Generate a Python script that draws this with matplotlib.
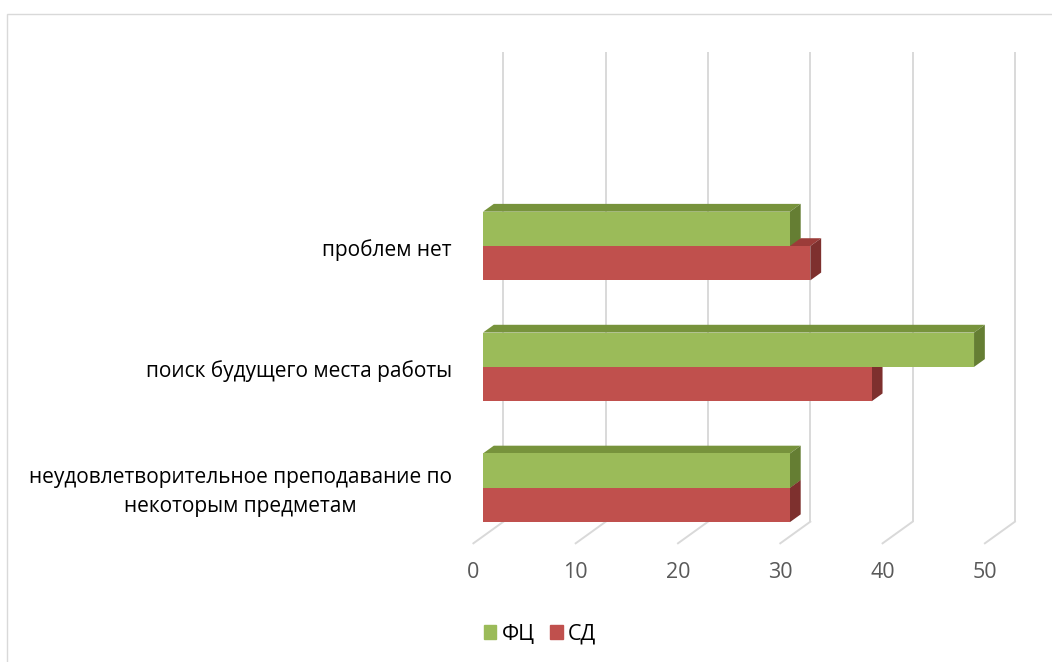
import matplotlib.pyplot as plt
import matplotlib.patches as mpatches
from matplotlib.patches import Polygon

# data (bottom to top)
categories = ['неудовлетворительное преподавание по\nнекоторым предметам',
              'поиск будущего места работы',
              'проблем нет']
fc_values = [30, 48, 30]   # ФЦ
sd_values = [30, 38, 32]   # СД
series_names = ['ФЦ', 'СД']
ticks = [0, 10, 20, 30, 40, 50]

W, H = 1052, 662
plt.rcParams['font.family'] = ['Open Sans', 'DejaVu Sans']

fig = plt.figure(figsize=(W / 100, H / 100), dpi=100)
ax = fig.add_axes([0, 0, 1, 1])
ax.axis('off')

# map: x pixel = X0 + SX * value, y pixel = Y0 - SY * category
X0, SX = 483.0, 10.23
Y0, SY = 487.8, 120.9
ax.set_xlim((0 - X0) / SX, (W - X0) / SX)
ax.set_ylim((Y0 - H) / SY, Y0 / SY)

# full depth of the 3d box in data units, bars sit from 0.32 to 0.68 of it
depth_x, depth_y = 30 / SX, 21.6 / SY
front_f, back_f = 0.32, 0.68
bar_dx = (back_f - front_f) * depth_x
bar_dy = (back_f - front_f) * depth_y
wall_dx = (1 - front_f) * depth_x
wall_dy = (1 - front_f) * depth_y
floor_dx = -front_f * depth_x
floor_dy = -front_f * depth_y

bar_h = 0.284
floor_y = (Y0 - 543.3) / SY - floor_dy   # floor level at bar plane
grid_top = (Y0 - 51.7) / SY

grid_c = '#d9d9d9'
for t in ticks:
    # back wall line
    ax.plot([t + wall_dx, t + wall_dx], [floor_y + wall_dy, grid_top],
            color=grid_c, lw=1.4, zorder=1, solid_capstyle='butt')
    # floor line
    ax.plot([t + floor_dx, t + wall_dx], [floor_y + floor_dy, floor_y + wall_dy],
            color=grid_c, lw=1.4, zorder=1)
    ax.text(t + floor_dx, (Y0 - 573) / SY, str(t), ha='center', va='center',
            fontsize=15.5, color='#595959')

styles = {
    'СД': ('#c0504d', '#9b3c39', '#7e302e'),
    'ФЦ': ('#9bbb59', '#77933c', '#657e33'),
}


def draw_bar(y_center, value, colors, z):
    front, top, side = colors
    yb = y_center - bar_h / 2
    yt = y_center + bar_h / 2
    ax.add_patch(Polygon([(0, yt), (value, yt), (value + bar_dx, yt + bar_dy),
                          (bar_dx, yt + bar_dy)], closed=True,
                         facecolor=top, edgecolor='none', zorder=z))
    ax.add_patch(Polygon([(value, yb), (value, yt), (value + bar_dx, yt + bar_dy),
                          (value + bar_dx, yb + bar_dy)], closed=True,
                         facecolor=side, edgecolor='none', zorder=z))
    ax.barh(y_center, value, height=bar_h, left=0, color=front,
            edgecolor='none', zorder=z + 0.5)


for i in range(len(categories)):
    draw_bar(i - bar_h / 2, sd_values[i], styles['СД'], 2 + i)
    draw_bar(i + bar_h / 2, fc_values[i], styles['ФЦ'], 2.1 + i)
    ax.text((452 - X0) / SX, i - 0.035, categories[i], ha='right', va='center',
            multialignment='center', fontsize=15, color='black', linespacing=1.55)

# chart border
ax.add_patch(mpatches.Rectangle(((7.5 - X0) / SX, (Y0 - 700) / SY),
                                (1100 - 7.5) / SX, (700 - 14.3) / SY,
                                fill=False, edgecolor='#d9d9d9', lw=1.0,
                                zorder=0, clip_on=False))

handles = [mpatches.Patch(color=styles[n][0], label=n) for n in series_names]
leg = ax.legend(handles=handles, ncol=2, loc='center',
                bbox_to_anchor=(540 / W, 1 - 634 / H), frameon=False,
                fontsize=15.5, handlelength=0.6, handleheight=0.6,
                handletextpad=0.25, columnspacing=0.7)

fig.savefig('out.png', dpi=100)
